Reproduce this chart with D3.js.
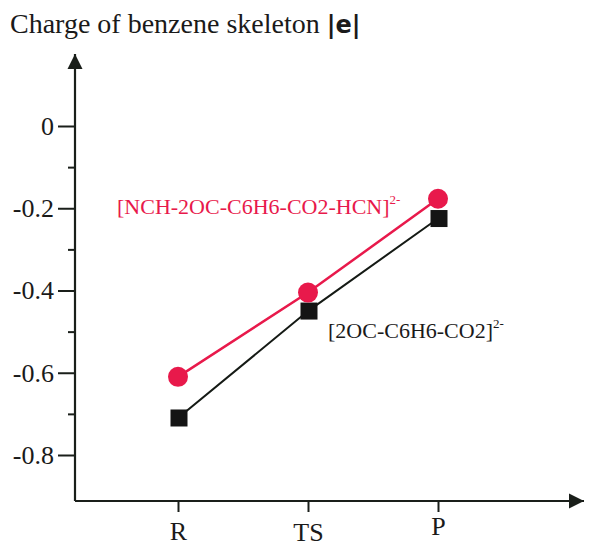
<!DOCTYPE html>
<html><head><meta charset="utf-8">
<script src="https://cdn.jsdelivr.net/npm/d3@7"></script>
<style>body{margin:0;background:#fff}svg{display:block}</style>
</head><body>
<script>
const categories = ["R", "TS", "P"];
const seriesComplex = [-0.61, -0.405, -0.177];  // [NCH-2OC-C6H6-CO2-HCN]2-
const seriesBare = [-0.71, -0.45, -0.225];       // [2OC-C6H6-CO2]2-
const majorTicks = [0, -0.2, -0.4, -0.6, -0.8];
const majorLabels = ["0", "-0.2", "-0.4", "-0.6", "-0.8"];
const minorTicks = [-0.1, -0.3, -0.5, -0.7];

const W = 589, H = 548;
const svg = d3.select("body").append("svg").attr("width", W).attr("height", H);
const font = "'Liberation Serif', 'Times New Roman', serif";
const axisColor = "#1a1f1a";
const red = "#e8194b";

const x = d3.scalePoint().domain(categories).range([178, 438]);
const y = d3.scaleLinear().domain([-0.8, 0]).range([455, 126]);
const x0 = 75, yBase = 501;

const defs = svg.append("defs");
defs.append("marker").attr("id", "arr").attr("viewBox", "0 0 10 10")
  .attr("refX", 10).attr("refY", 5).attr("markerWidth", 7).attr("markerHeight", 7)
  .attr("markerUnits", "strokeWidth").attr("orient", "auto")
  .append("path").attr("d", "M0,0 L10,5 L0,10 Z").attr("fill", axisColor);

// Title
const title = svg.append("text").attr("x", 10).attr("y", 33)
  .attr("font-family", font).attr("font-size", 28).attr("fill", "#1a1a1a");
title.append("tspan").text("Charge of benzene skeleton ");
title.append("tspan").attr("font-family", "'DejaVu Sans', sans-serif").attr("font-weight", "bold")
  .attr("font-size", 24).text("|e|");

// Y axis
const gy = svg.append("g").attr("transform", `translate(${x0},0)`);
gy.call(d3.axisLeft(y).tickValues(majorTicks).tickSize(17).tickPadding(4)
  .tickFormat((d, i) => majorLabels[i]));
gy.select(".domain").remove();
gy.selectAll(".tick line").attr("stroke", axisColor).attr("stroke-width", 2);
gy.selectAll(".tick text").attr("font-family", font).attr("font-size", 26).attr("fill", "#1a1a1a");
const gym = svg.append("g").attr("transform", `translate(${x0},0)`);
gym.call(d3.axisLeft(y).tickValues(minorTicks).tickSize(7).tickFormat(""));
gym.select(".domain").remove();
gym.selectAll(".tick line").attr("stroke", axisColor).attr("stroke-width", 2);
svg.append("line").attr("x1", x0).attr("x2", x0).attr("y1", yBase).attr("y2", 54)
  .attr("stroke", axisColor).attr("stroke-width", 2.2).attr("marker-end", "url(#arr)");

// X axis
const gx = svg.append("g").attr("transform", `translate(0,${yBase})`);
gx.call(d3.axisBottom(x).tickSize(11).tickPadding(4));
gx.select(".domain").remove();
gx.selectAll(".tick line").attr("stroke", axisColor).attr("stroke-width", 2);
const labelBase = [39, 40, 34];
gx.selectAll(".tick text").attr("font-family", font).attr("font-size", 26).attr("fill", "#1a1a1a")
  .attr("dy", null).attr("y", (d, i) => labelBase[i]);
svg.append("line").attr("x1", x0).attr("x2", 584).attr("y1", yBase).attr("y2", yBase)
  .attr("stroke", axisColor).attr("stroke-width", 2.2).attr("marker-end", "url(#arr)");

// Lines
const line = d3.line().x((d, i) => x(categories[i])).y(d => y(d));
svg.append("path").datum(seriesBare).attr("d", line).attr("fill", "none")
  .attr("stroke", "#151a15").attr("stroke-width", 2);
svg.append("path").datum(seriesComplex).attr("d", line).attr("fill", "none")
  .attr("stroke", red).attr("stroke-width", 2.5);

// Markers
const sq = 17;
svg.selectAll(".sq").data(seriesBare).enter().append("rect")
  .attr("x", (d, i) => x(categories[i]) + 1 - sq / 2).attr("y", d => y(d) - sq / 2)
  .attr("width", sq).attr("height", sq).attr("fill", "#141414");
svg.selectAll(".ci").data(seriesComplex).enter().append("circle")
  .attr("cx", (d, i) => x(categories[i])).attr("cy", d => y(d)).attr("r", 10).attr("fill", red);

// Annotations
const t1 = svg.append("text").attr("x", 117).attr("y", 214)
  .attr("font-family", font).attr("font-size", 22).attr("fill", red);
t1.append("tspan").text("[NCH-2OC-C6H6-CO2-HCN]");
t1.append("tspan").attr("font-size", 13).attr("dy", -10).text("2-");

const t2 = svg.append("text").attr("x", 328).attr("y", 338)
  .attr("font-family", font).attr("font-size", 22).attr("fill", "#1a1a1a");
t2.append("tspan").text("[2OC-C6H6-CO2]");
t2.append("tspan").attr("font-size", 13).attr("dy", -10).text("2-");
</script>
</body></html>
